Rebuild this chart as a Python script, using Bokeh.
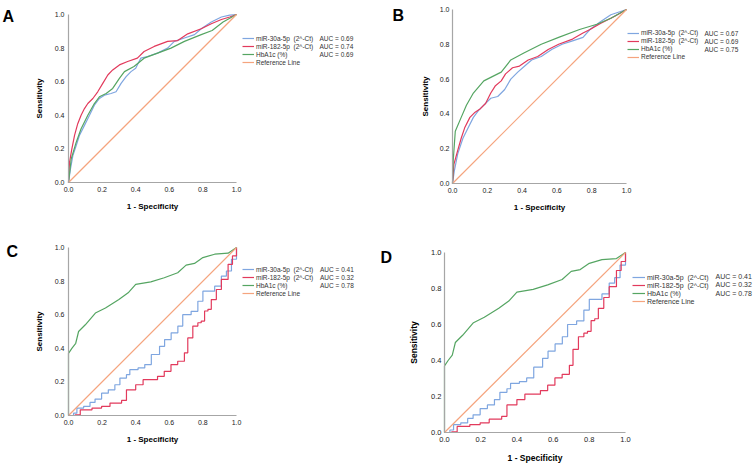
from bokeh.plotting import figure
from bokeh.layouts import row, column
from bokeh.models import Range1d, FixedTicker, NumeralTickFormatter, Legend, LegendItem, Label
from bokeh.embed import file_html
from bokeh.resources import INLINE

# ---------------- data ----------------
SERIES = ["miR-30a-5p\u00a0\u00a0(2^-Ct)", "miR-182-5p\u00a0\u00a0(2^-Ct)", "HbA1c (%)", "Reference Line"]
TICKS = [0.0, 0.2, 0.4, 0.6, 0.8, 1.0]
REF_X = [0.0, 1.0]
REF_Y = [0.0, 1.0]

# Panel A
a_auc = ["AUC = 0.69", "AUC = 0.74", "AUC = 0.69"]
a_mir30_x = [0, 0.012, 0.026, 0.046, 0.065, 0.095, 0.125, 0.154, 0.184, 0.214, 0.253, 0.283, 0.313, 0.343, 0.372, 0.40, 0.43, 0.47, 0.53, 0.59, 0.63, 0.69, 0.75, 0.79, 0.85, 0.91, 0.96, 1.0]
a_mir30_y = [0, 0.083, 0.16, 0.22, 0.28, 0.34, 0.40, 0.46, 0.50, 0.52, 0.53, 0.54, 0.59, 0.63, 0.66, 0.68, 0.74, 0.75, 0.77, 0.80, 0.84, 0.86, 0.88, 0.915, 0.955, 0.985, 0.996, 1.0]
a_mir182_x = [0, 0.006, 0.02, 0.036, 0.055, 0.075, 0.095, 0.115, 0.145, 0.174, 0.204, 0.234, 0.263, 0.303, 0.352, 0.41, 0.45, 0.51, 0.59, 0.65, 0.71, 0.79, 0.85, 0.91, 0.96, 1.0]
a_mir182_y = [0, 0.12, 0.20, 0.28, 0.35, 0.40, 0.44, 0.47, 0.50, 0.54, 0.59, 0.64, 0.67, 0.70, 0.72, 0.74, 0.78, 0.81, 0.84, 0.845, 0.885, 0.915, 0.945, 0.97, 0.985, 1.0]
a_hba1c_x = [0, 0.016, 0.046, 0.075, 0.115, 0.154, 0.184, 0.224, 0.263, 0.303, 0.333, 0.39, 0.45, 0.53, 0.61, 0.69, 0.79, 0.855, 0.92, 1.0]
a_hba1c_y = [0, 0.14, 0.24, 0.32, 0.40, 0.47, 0.51, 0.53, 0.56, 0.62, 0.66, 0.69, 0.74, 0.77, 0.80, 0.84, 0.88, 0.905, 0.955, 1.0]

# Panel B
b_auc = ["AUC = 0.67", "AUC = 0.69", "AUC = 0.75"]
b_mir30_x = [0, 0.01, 0.03, 0.06, 0.09, 0.12, 0.15, 0.18, 0.22, 0.26, 0.30, 0.335, 0.375, 0.415, 0.455, 0.51, 0.57, 0.63, 0.69, 0.75, 0.79, 0.85, 0.91, 0.97, 1.0]
b_mir30_y = [0, 0.07, 0.17, 0.26, 0.32, 0.38, 0.42, 0.45, 0.49, 0.50, 0.54, 0.60, 0.64, 0.675, 0.71, 0.73, 0.77, 0.80, 0.82, 0.84, 0.885, 0.93, 0.97, 0.99, 1.0]
b_mir182_x = [0, 0.008, 0.03, 0.05, 0.07, 0.10, 0.13, 0.16, 0.19, 0.22, 0.245, 0.28, 0.305, 0.345, 0.385, 0.435, 0.49, 0.55, 0.61, 0.69, 0.75, 0.79, 0.85, 0.93, 1.0]
b_mir182_y = [0, 0.11, 0.19, 0.26, 0.32, 0.38, 0.41, 0.43, 0.46, 0.52, 0.56, 0.59, 0.63, 0.665, 0.675, 0.71, 0.73, 0.77, 0.80, 0.83, 0.865, 0.885, 0.92, 0.96, 1.0]
b_hba1c_x = [0, 0.004, 0.016, 0.05, 0.08, 0.12, 0.18, 0.22, 0.28, 0.335, 0.41, 0.51, 0.61, 0.73, 0.83, 0.91, 1.0]
b_hba1c_y = [0, 0.13, 0.30, 0.38, 0.45, 0.52, 0.59, 0.61, 0.64, 0.71, 0.75, 0.80, 0.84, 0.885, 0.915, 0.95, 1.0]

# Panels C and D (same data)
cd_auc = ["AUC = 0.41", "AUC = 0.32", "AUC = 0.78"]
c_mir30_x = [0, 0.03, 0.05, 0.09, 0.128, 0.158, 0.197, 0.237, 0.276, 0.306, 0.345, 0.365, 0.414, 0.454, 0.493, 0.542, 0.572, 0.611, 0.651, 0.68, 0.73, 0.77, 0.80, 0.84, 0.87, 0.91, 0.94, 0.97, 1.0]
c_mir30_y = [0, 0.014, 0.044, 0.054, 0.078, 0.098, 0.133, 0.153, 0.183, 0.223, 0.243, 0.273, 0.283, 0.303, 0.363, 0.412, 0.452, 0.492, 0.532, 0.60, 0.62, 0.68, 0.74, 0.74, 0.77, 0.83, 0.86, 0.93, 1.0]
c_mir182_x = [0, 0.04, 0.07, 0.14, 0.197, 0.247, 0.316, 0.345, 0.40, 0.444, 0.53, 0.57, 0.61, 0.65, 0.69, 0.71, 0.74, 0.77, 0.79, 0.81, 0.83, 0.85, 0.88, 0.91, 0.95, 0.976, 1.0]
c_mir182_y = [0, 0.004, 0.034, 0.044, 0.054, 0.074, 0.09, 0.153, 0.183, 0.213, 0.233, 0.263, 0.303, 0.323, 0.373, 0.462, 0.532, 0.552, 0.562, 0.622, 0.632, 0.69, 0.75, 0.81, 0.90, 0.95, 1.0]
c_hba1c_x = [0, 0, 0.02, 0.043, 0.06, 0.10, 0.16, 0.22, 0.30, 0.355, 0.40, 0.49, 0.57, 0.65, 0.70, 0.75, 0.80, 0.87, 0.95, 1.0]
c_hba1c_y = [0, 0.37, 0.40, 0.43, 0.50, 0.54, 0.61, 0.64, 0.69, 0.73, 0.78, 0.795, 0.82, 0.85, 0.895, 0.905, 0.94, 0.96, 0.966, 1.0]

COLORS = ["#7fa6e0", "#e23a5c", "#55a562", "#f5a47e"]
FONT = "Liberation Sans"


def make_panel(letter, fig, frame, curves, step, aucs, leg, fs):
    # fig: figure box on the page; frame: where data 0..1 lies on the page
    fx, fy, fw, fh = fig
    l, t, w, h = frame
    x0 = -(l - fx) / w
    x1 = (fx + fw - l) / w
    y0 = -((fy + fh) - (t + h)) / h
    y1 = 1 + (t - fy) / h
    p = figure(width=fw, height=fh, x_range=Range1d(x0, x1), y_range=Range1d(y0, y1),
               output_backend="svg", toolbar_location=None,
               min_border_left=0, min_border_right=0, min_border_top=0, min_border_bottom=0)
    p.outline_line_color = None
    p.background_fill_color = "white"
    p.border_fill_color = "white"
    p.xgrid.visible = False
    p.ygrid.visible = False
    for ax, lab, so_tick, so_lab in ((p.xaxis, "1 - Specificity", fs["xts"], fs["xls"]),
                                     (p.yaxis, "Sensitivity", fs["yts"], fs["yls"])):
        ax.fixed_location = 0
        ax.bounds = (0, 1)
        ax.ticker = FixedTicker(ticks=TICKS)
        ax.formatter = NumeralTickFormatter(format="0.0")
        ax.axis_line_color = "#a6a6a6"
        ax.axis_line_width = 1.2
        ax.major_tick_line_color = None
        ax.minor_tick_line_color = None
        ax.major_tick_out = 0
        ax.major_tick_in = 0
        ax.major_label_text_font = FONT
        ax.major_label_text_font_size = fs["tick"]
        ax.major_label_text_color = "#222222"
        ax.major_label_standoff = so_tick
        ax.axis_label = lab
        ax.axis_label_text_font = FONT
        ax.axis_label_text_font_style = "bold"
        ax.axis_label_text_font_size = fs["label"]
        ax.axis_label_text_color = "#000000"
        ax.axis_label_standoff = so_lab

    renderers = []
    for i, (xs, ys) in enumerate(curves):
        if step[i]:
            r = p.step(xs, ys, mode="after", line_color=COLORS[i], line_width=1.2)
        else:
            r = p.line(xs, ys, line_color=COLORS[i], line_width=1.2)
        renderers.append(r)
    renderers.append(p.line(REF_X, REF_Y, line_color=COLORS[3], line_width=1.2))

    gx, row1, rh, aucx = leg
    top = row1 - rh / 2.0
    bottom = top + 4 * rh
    legend = Legend(items=[LegendItem(label=SERIES[i], renderers=[renderers[i]]) for i in range(4)],
                    location=(gx - fx, (fy + fh) - bottom), orientation="vertical",
                    glyph_width=fs["gw"], glyph_height=int(rh), label_height=int(rh),
                    label_standoff=2, spacing=0, padding=0, margin=0,
                    label_text_font=FONT, label_text_font_size=fs["leg"],
                    label_text_color="#333333", label_text_baseline="middle",
                    border_line_color=None, background_fill_alpha=0)
    p.add_layout(legend)
    for i, txt in enumerate(aucs):
        yc = row1 + i * rh
        p.add_layout(Label(x=(aucx - l) / w, y=((t + h) - yc) / h, text=txt,
                           text_font=FONT, text_font_size=fs["leg"], text_color="#333333",
                           text_baseline="middle", text_align="left"))
    lx, ly = letter[1]
    p.add_layout(Label(x=(lx - l) / w, y=((t + h) - ly) / h, text=letter[0],
                       text_font=FONT, text_font_style="bold", text_font_size=fs["letter"],
                       text_color="#000000", text_baseline="alphabetic", text_align="left"))
    return p


fs_small = dict(tick="7px", label="8px", leg="6.5px", gw=12, letter="16px", xts=4, xls=7, yts=4, yls=8)
fs_b = dict(tick="7px", label="8px", leg="6.5px", gw=12, letter="16px", xts=4, xls=7, yts=3, yls=7)
fs_d = dict(tick="7.5px", label="8.5px", leg="7px", gw=13, letter="16px", xts=4, xls=8, yts=3, yls=9)

pA = make_panel(("A", (2, 16)), (0, 0, 375, 230), (68, 14, 168, 168),
                [(a_mir30_x, a_mir30_y), (a_mir182_x, a_mir182_y), (a_hba1c_x, a_hba1c_y)],
                [False, False, False], a_auc, (242, 38, 8, 319), fs_small)
pB = make_panel(("B", (392, 15)), (375, 0, 380, 230), (452, 9, 174, 174),
                [(b_mir30_x, b_mir30_y), (b_mir182_x, b_mir182_y), (b_hba1c_x, b_hba1c_y)],
                [False, False, False], b_auc, (627, 32.5, 8, 704), fs_b)
pC = make_panel(("C", (6, 251)), (0, 230, 375, 235), (68, 247, 168, 168),
                [(c_mir30_x, c_mir30_y), (c_mir182_x, c_mir182_y), (c_hba1c_x, c_hba1c_y)],
                [True, True, False], cd_auc, (242, 269, 8, 319.5), fs_small)
pD = make_panel(("D", (380, 257)), (375, 230, 380, 235), (444, 252, 181, 180),
                [(c_mir30_x, c_mir30_y), (c_mir182_x, c_mir182_y), (c_hba1c_x, c_hba1c_y)],
                [True, True, False], cd_auc, (632, 275.5, 8.5, 715), fs_d)

layout = column(row(pA, pB), row(pC, pD))

open("out.html", "w").write(file_html(layout, INLINE))
